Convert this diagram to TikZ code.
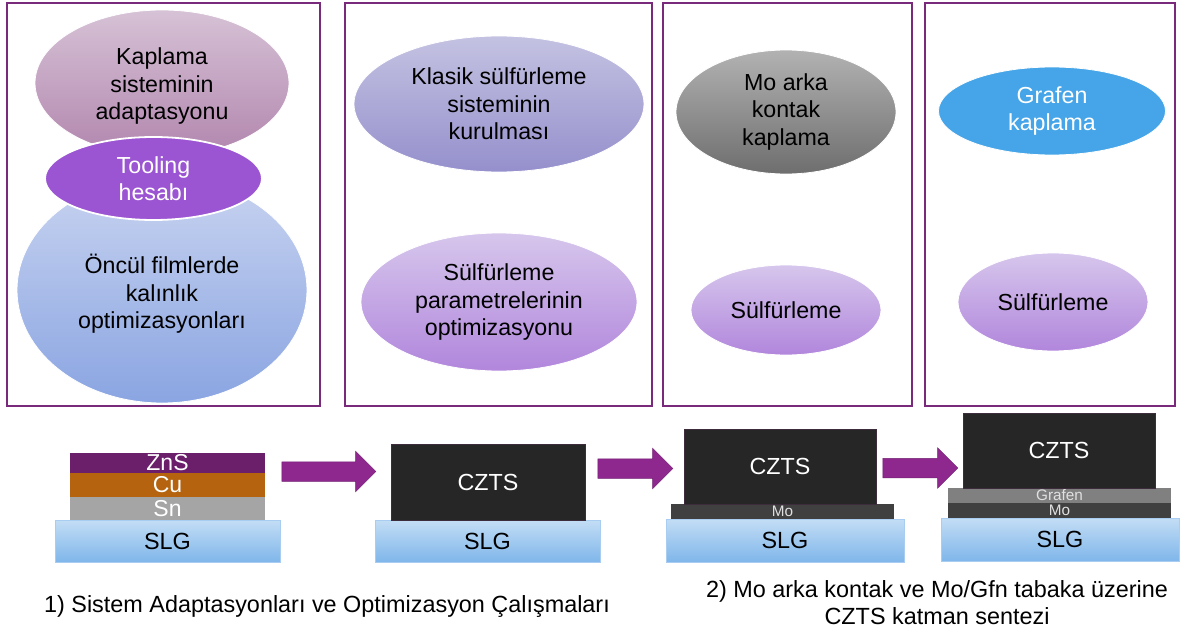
\documentclass[tikz,border=0pt]{standalone}
\usepackage{fontspec}
\setmainfont{Liberation Sans}
\usetikzlibrary{shapes.geometric,shapes.arrows}
\definecolor{panelc}{RGB}{122,42,122}
\definecolor{arrowc}{RGB}{142,40,142}
\definecolor{kapT}{RGB}{214,194,214}
\definecolor{kapB}{RGB}{178,134,174}
\definecolor{oncT}{RGB}{200,211,240}
\definecolor{oncB}{RGB}{138,165,226}
\definecolor{toolc}{RGB}{155,85,210}
\definecolor{klaT}{RGB}{196,194,226}
\definecolor{klaB}{RGB}{149,144,204}
\definecolor{sulT}{RGB}{214,198,236}
\definecolor{sulB}{RGB}{177,134,220}
\definecolor{moT}{RGB}{178,178,178}
\definecolor{moB}{RGB}{110,110,110}
\definecolor{grafc}{RGB}{69,165,232}
\definecolor{slgT}{RGB}{195,221,245}
\definecolor{slgB}{RGB}{127,182,234}
\definecolor{slgD}{RGB}{168,205,240}
\definecolor{cztsc}{RGB}{38,38,38}
\definecolor{cztsd}{RGB}{60,44,60}
\definecolor{molay}{RGB}{64,64,64}
\definecolor{grlay}{RGB}{128,128,128}
\definecolor{znsc}{RGB}{107,31,107}
\definecolor{cuc}{RGB}{181,99,15}
\definecolor{snc}{RGB}{165,165,165}
\begin{document}
\begin{tikzpicture}[x=1pt,y=-1pt,
  panel/.style={draw=panelc, line width=1.4pt, inner sep=0pt, outer sep=0pt},
  ell/.style={ellipse, inner sep=0pt, outer sep=0pt, align=center, draw=white, line width=0.8pt,
    font=\fontsize{23.2}{27.5}\selectfont},
  elltxt/.style={inner sep=0pt, align=center, font=\fontsize{23.2}{27.5}\selectfont},
  lay/.style={rectangle, inner sep=0pt, outer sep=0pt, text=white, align=center},
  slg/.style={lay, draw=slgD, line width=0.6pt, top color=slgT, bottom color=slgB, text=black,
    font=\fontsize{23.4}{24}\selectfont},
  czts/.style={lay, fill=cztsc, draw=cztsd, line width=0.8pt, font=\fontsize{23.3}{24}\selectfont},
  thinlay/.style={lay, font=\fontsize{15.3}{15}\selectfont, text=white!88!black},
  metal/.style={lay, minimum width=195pt, font=\fontsize{23}{20}\selectfont},
  barrow/.style={single arrow, fill=arrowc, draw=arrowc!80!black, line width=0.5pt,
    inner xsep=0pt, inner ysep=9.5pt, outer sep=0pt, single arrow head extend=10.5pt, single arrow tip angle=90},
  captxt/.style={align=center, font=\fontsize{23.4}{27}\selectfont, inner sep=0pt}
]
\useasboundingbox (0,0) rectangle (1189,634);
% panels
\node[panel, minimum width=313pt, minimum height=403pt] (p1) at (163.5,204.5) {};
\node[panel, minimum width=307pt, minimum height=403pt] (p2) at (498.5,204.5) {};
\node[panel, minimum width=249pt, minimum height=403pt] (p3) at (787.5,204.5) {};
\node[panel, minimum width=250pt, minimum height=403pt] (p4) at (1050,204.5) {};
% panel 1
\node[ell, top color=kapT, bottom color=kapB, minimum width=254pt, minimum height=146pt] (kap) at (162,83) {};
\node[elltxt] (kapt) at (162,86.5) {Kaplama\\sisteminin\\adaptasyonu};
\node[ell, top color=oncT, bottom color=oncB, minimum width=290pt, minimum height=226pt] (onc) at (162,290) {};
\node[elltxt] (onct) at (162,294) {Öncül filmlerde\\kalınlık\\optimizasyonları};
\node[ell, fill=toolc, draw=white, line width=1.8pt, text=white, minimum width=217pt, minimum height=83pt] (tool) at (153.5,178.5)
  {Tooling\\hesabı};
% panel 2
\node[ell, top color=klaT, bottom color=klaB, minimum width=290pt, minimum height=136pt] (kla) at (499,104)
  {Klasik sülfürleme\\sisteminin\\kurulması};
\node[ell, top color=sulT, bottom color=sulB, minimum width=276pt, minimum height=138pt] (sp) at (499,302)
  {Sülfürleme\\parametrelerinin\\optimizasyonu};
% panel 3
\node[ell, top color=moT, bottom color=moB, minimum width=220pt, minimum height=124pt] (mo) at (786,112)
  {Mo arka\\kontak\\kaplama};
\node[ell, top color=sulT, bottom color=sulB, minimum width=190pt, minimum height=90pt] (s3) at (786,310)
  {Sülfürleme};
% panel 4
\node[ell, fill=grafc, text=white, minimum width=227pt, minimum height=88pt] (gr) at (1052,111)
  {Grafen\\kaplama};
\node[ell, top color=sulT, bottom color=sulB, minimum width=190pt, minimum height=98pt] (s4) at (1053,302)
  {Sülfürleme};
% stack 1
\node[slg, minimum width=225pt, minimum height=42pt] (slg1) at (167.5,541) {SLG};
\node[metal, fill=snc, minimum height=23pt] (sn) at (167.5,508.5) {Sn};
\node[metal, fill=cuc, minimum height=24pt] (cu) at (167.5,485) {Cu};
\node[metal, fill=znsc, minimum height=20pt] (zns) at (167.5,463) {ZnS};
% stack 2
\node[slg, minimum width=225pt, minimum height=42pt] (slg2) at (487.5,541) {SLG};
\node[czts, minimum width=194pt, minimum height=76pt] (cz2) at (488,482) {CZTS};
% stack 3
\node[slg, minimum width=238pt, minimum height=43pt] (slg3) at (785,540.5) {SLG};
\node[thinlay, fill=molay, minimum width=223pt, minimum height=15pt] (mo3) at (782.5,511.5) {\raisebox{-2pt}{Mo}};
\node[czts, minimum width=192pt, minimum height=75pt] (cz3) at (780,466.5) {CZTS};
% stack 4
\node[slg, minimum width=238pt, minimum height=43pt] (slg4) at (1060,539.5) {SLG};
\node[thinlay, fill=molay, minimum width=223pt, minimum height=15pt] (mo4) at (1059.5,510.5) {Mo};
\node[thinlay, fill=grlay, minimum width=223pt, minimum height=15pt] (gf4) at (1059.5,495.5) {Grafen};
\node[czts, minimum width=192pt, minimum height=75pt] (cz4) at (1059,450.5) {CZTS};
% arrows
\node[barrow, minimum height=94pt, minimum width=40pt] (a1) at (324,471.5) {};
\node[barrow, minimum height=75pt, minimum width=40pt] (a2) at (630.5,468.5) {};
\node[barrow, minimum height=75pt, minimum width=38pt] (a3) at (915.5,468) {};
% captions
\node[captxt] (c1) at (327,606) {1) Sistem Adaptasyonları ve Optimizasyon Çalışmaları};
\node[captxt] (c2) at (937,603) {2) Mo arka kontak ve Mo/Gfn tabaka üzerine\\CZTS katman sentezi};
\end{tikzpicture}
\end{document}
